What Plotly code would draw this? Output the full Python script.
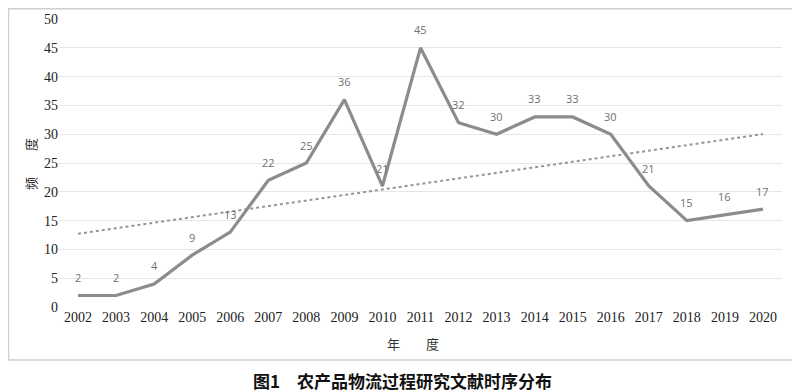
import numpy as np
import plotly.graph_objects as go

years = [str(y) for y in range(2002, 2021)]
counts = [2, 2, 4, 9, 13, 22, 25, 36, 21, 45, 32, 30, 33, 33, 30, 21, 15, 16, 17]
y_ticks = [0, 5, 10, 15, 20, 25, 30, 35, 40, 45, 50]
x_title = "年　　度"
y_title = "频　　度"
caption = "图1　农产品物流过程研究文献时序分布"

idx = np.arange(len(counts))
slope, intercept = np.polyfit(idx, counts, 1)
trend = intercept + slope * idx

fig = go.Figure()
fig.add_trace(go.Scatter(
    x=years, y=trend, mode="lines",
    line=dict(color="#959595", width=2, dash="dot"),
    hoverinfo="skip", showlegend=False))
fig.add_trace(go.Scatter(
    x=years, y=counts, mode="lines",
    line=dict(color="#8c8c8c", width=3.2),
    showlegend=False))

for i, v in zip(idx, counts):
    fig.add_annotation(x=int(i), y=v, xref="x", yref="y", text=str(v),
                       showarrow=False, yshift=18, yanchor="middle",
                       font=dict(family="Open Sans, sans-serif", size=11,
                                 color="#707070"))

# page body has an 8px margin; positions below are in screen pixels
OFF = 8
W, H = 800, 392
L, R, T, B = 59 - OFF, W - (782 - OFF), 19 - OFF, H - (307 - OFF)
pw, ph = W - L - R, H - T - B

def px_x(x):
    return (x - OFF - L) / pw

def px_y(y):
    return (H - B - (y - OFF)) / ph

fig.add_shape(type="rect", xref="paper", yref="paper",
              x0=px_x(8.5), x1=px_x(796), y0=px_y(360), y1=px_y(8.8),
              line=dict(color="#cfcfcf", width=1.5), layer="below")

fig.add_annotation(text=x_title, xref="paper", yref="paper",
                   x=px_x(413), y=px_y(343), showarrow=False,
                   xanchor="center", yanchor="middle",
                   font=dict(family="Noto Sans CJK SC", size=13, color="#333"))
fig.add_annotation(text=y_title, xref="paper", yref="paper",
                   x=px_x(30), y=px_y(164), showarrow=False, textangle=-90,
                   xanchor="center", yanchor="middle",
                   font=dict(family="Noto Sans CJK SC", size=13, color="#333"))
fig.add_annotation(text="<b>" + caption + "</b>", xref="paper", yref="paper",
                   x=px_x(402), y=px_y(380), showarrow=False,
                   xanchor="center", yanchor="middle",
                   font=dict(family="Noto Sans CJK SC", size=17, color="#111"))

fig.update_layout(
    width=W, height=H,
    margin=dict(l=L, r=R, t=T, b=B, autoexpand=False),
    paper_bgcolor="white", plot_bgcolor="white",
    xaxis=dict(type="category", range=[-0.5, 18.5], showgrid=False,
               showline=False, ticks="", zeroline=False, automargin=False,
               tickfont=dict(family="Liberation Serif", size=14, color="#222")),
    yaxis=dict(range=[0, 50], tickvals=y_ticks, showgrid=True,
               gridcolor="#e6e6e6", gridwidth=1, zeroline=False,
               showline=False, ticks="", automargin=False,
               tickfont=dict(family="Liberation Serif", size=14, color="#222")),
)

fig.write_html("out.html")
